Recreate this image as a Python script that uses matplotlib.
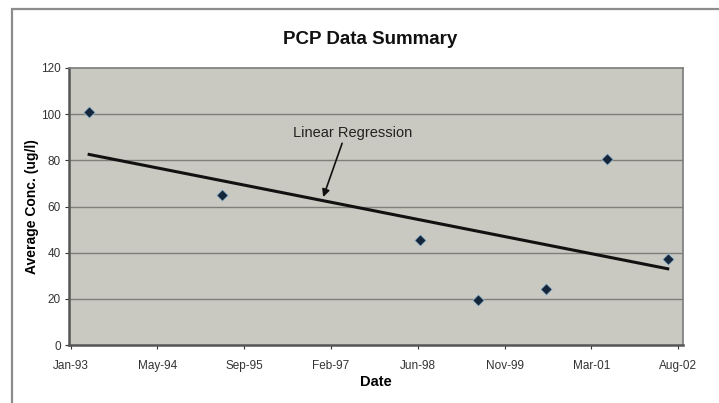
# PCP data summary chart - scatter with linear regression trend

import numpy as np
import pandas as pd
import matplotlib
matplotlib.use("Agg")
import matplotlib.pyplot as plt
import matplotlib.dates as mdates
from matplotlib.patches import Rectangle

plt.rcParams["font.family"] = ["Liberation Sans", "DejaVu Sans"]

# ---- data ----
sample_dates = ["1993-04-18", "1995-05-22", "1998-07-07", "1999-06-04",
                "2000-06-30", "2001-06-20", "2002-06-02"]
avg_conc = [100.8, 64.8, 45.3, 19.3, 24.1, 80.5, 37.1]

tick_dates = ["1993-01-01", "1994-05-16", "1995-09-28", "1997-02-09",
              "1998-06-24", "1999-11-06", "2001-03-20", "2002-08-02"]
y_ticks = [0, 20, 40, 60, 80, 100, 120]

x = mdates.date2num(pd.to_datetime(sample_dates))
y = np.array(avg_conc)
xt = mdates.date2num(pd.to_datetime(tick_dates))

# regression line through the samples
slope, icpt = np.polyfit(x, y, 1)
x_fit = np.array([x[0], x[-1]])
y_fit = slope * x_fit + icpt

fig = plt.figure(figsize=(7.19, 4.03), dpi=100)
fig.patch.set_facecolor("white")

# outer chart border (left/top visible)
fig.patches.append(Rectangle((12 / 719, -0.05), 1.2, 1 - 9 / 403 + 0.05,
                             transform=fig.transFigure, fill=False,
                             edgecolor="#8c8c8c", linewidth=1.6))

ax = fig.add_axes([69 / 719, 1 - 345 / 403, (683 - 69) / 719, (345 - 68) / 403])
ax.set_facecolor("#c9c9c1")

for v in y_ticks[1:-1]:
    ax.axhline(v, color="#7e7e7a", linewidth=1.0, zorder=1)

ax.plot(x_fit, y_fit, color="#111111", linewidth=2.2, zorder=2)

ax.scatter(x, y, marker="D", s=34, color="#16263a",
           edgecolors="#9fc0d8", linewidths=0.6, zorder=3)

# label + arrow pointing at the trend line
ax.text(xt[0] + 1622, 91.9, "Linear Regression", ha="center", va="center",
        fontsize=10.5, color="#222222", zorder=4)
ax.annotate("", xy=(xt[0] + 1455, 64.1), xytext=(xt[0] + 1564, 87.4),
            arrowprops=dict(arrowstyle="-|>", color="#111111", lw=1.2,
                            mutation_scale=11, shrinkA=0, shrinkB=0),
            zorder=4)

ax.set_xlim(xt[0] - 9, xt[-1] + 27)
ax.set_ylim(0, 120)

ax.set_xticks(xt)
ax.set_xticklabels([pd.Timestamp(d).strftime("%b-%y") for d in tick_dates])
ax.set_yticks(y_ticks)

ax.tick_params(axis="both", labelsize=8.5, colors="#333333", length=3,
               width=0.8, direction="out")
ax.tick_params(axis="x", pad=8)
ax.tick_params(axis="y", pad=3)

for side in ["top", "right"]:
    ax.spines[side].set_color("#7a7a7a")
    ax.spines[side].set_linewidth(1.2)
for side in ["bottom", "left"]:
    ax.spines[side].set_color("#555555")
    ax.spines[side].set_linewidth(1.8)

ax.set_xlabel("Date", fontsize=10.5, fontweight="bold", labelpad=2)
ax.set_ylabel("Average Conc. (ug/l)", fontsize=10, fontweight="bold", labelpad=2)
ax.yaxis.set_label_coords(-(69 - 39) / 614, 0.5)

fig.text(370 / 719, 1 - 40 / 403, "PCP Data Summary", ha="center", va="center",
         fontsize=13.5, fontweight="bold", color="#111111")

plt.savefig("out.png", dpi=100, facecolor="white")
